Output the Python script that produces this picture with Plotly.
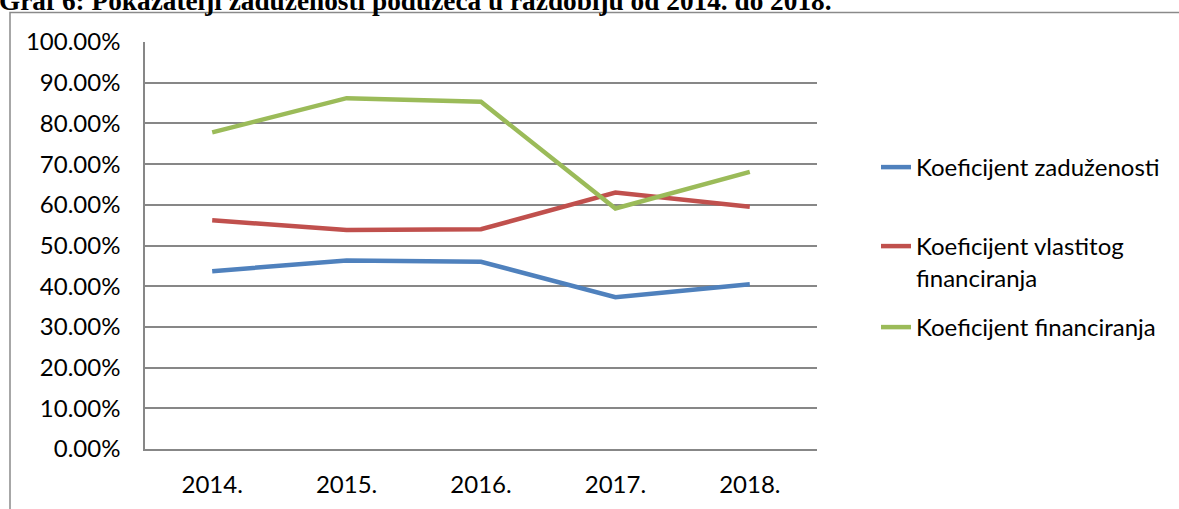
import plotly.graph_objects as go

# data
years = ["2014.", "2015.", "2016.", "2017.", "2018."]
koef_zaduzenosti = [0.437, 0.463, 0.460, 0.373, 0.405]
koef_vlastitog = [0.562, 0.538, 0.540, 0.630, 0.595]
koef_financiranja = [0.778, 0.862, 0.853, 0.591, 0.681]

series_names = ["Koeficijent zaduženosti",
                "Koeficijent vlastitog<br>financiranja",
                "Koeficijent financiranja"]
series_colors = ["#4F81BD", "#C0504D", "#9BBB59"]

W, H = 1179, 509
L, R, T, B = 145, 362, 42, 60
pw, ph = W - L - R, H - T - B

def px_x(p):
    return (p - L) / pw

def px_y(p):
    return 1 - (p - T) / ph

fig = go.Figure()
legend_ids = ["legend", "legend2", "legend3"]
for i, vals in enumerate([koef_zaduzenosti, koef_vlastitog, koef_financiranja]):
    fig.add_trace(go.Scatter(x=years, y=vals, mode='lines', name=series_names[i],
                             legend=legend_ids[i],
                             line=dict(color=series_colors[i], width=4.5)))

grid_col = '#878787'
legend_tops = [145, 224, 305]
leg_font = dict(family='Lato', size=24, color='black')
fig.update_layout(
    width=W, height=H,
    margin=dict(l=L, r=R, t=T, b=B, autoexpand=False),
    plot_bgcolor='white', paper_bgcolor='white',
    font=dict(family='Lato', size=24, color='black'),
    showlegend=True,
)
for lid, top in zip(legend_ids, legend_tops):
    fig.update_layout({lid: dict(x=px_x(876), y=px_y(top), xanchor='left', yanchor='top',
                                 font=leg_font, valign='top', bgcolor='rgba(0,0,0,0)')})

fig.update_xaxes(showgrid=False, showline=True, linecolor=grid_col, linewidth=1.5,
                 ticks='', ticklabelstandoff=13, range=[-0.5, 4.5], fixedrange=True)
fig.update_yaxes(range=[0, 1], dtick=0.1, tickformat='.2%', showgrid=True,
                 gridcolor=grid_col, gridwidth=1.5, showline=True, linecolor=grid_col,
                 linewidth=1.5, ticks='', ticklabelstandoff=18, zeroline=False)

# outer chart frame (cut off at the right and bottom in the original)
fig.add_shape(type='rect', xref='paper', yref='paper',
              x0=px_x(10), x1=px_x(1300), y0=px_y(12.5), y1=px_y(600),
              line=dict(color='#8a8a8a', width=1.5), layer='below')

fig.add_annotation(text='<b>Graf 6: Pokazatelji zaduženosti poduzeća u razdoblju od 2014. do 2018.</b>',
                   xref='paper', yref='paper', x=px_x(-3), y=px_y(18),
                   xanchor='left', yanchor='bottom', showarrow=False,
                   font=dict(family='Liberation Serif', size=27.3, color='black'))

fig.write_html("out.html", config={'displayModeBar': False},
               post_script="document.body.style.margin='0';")
